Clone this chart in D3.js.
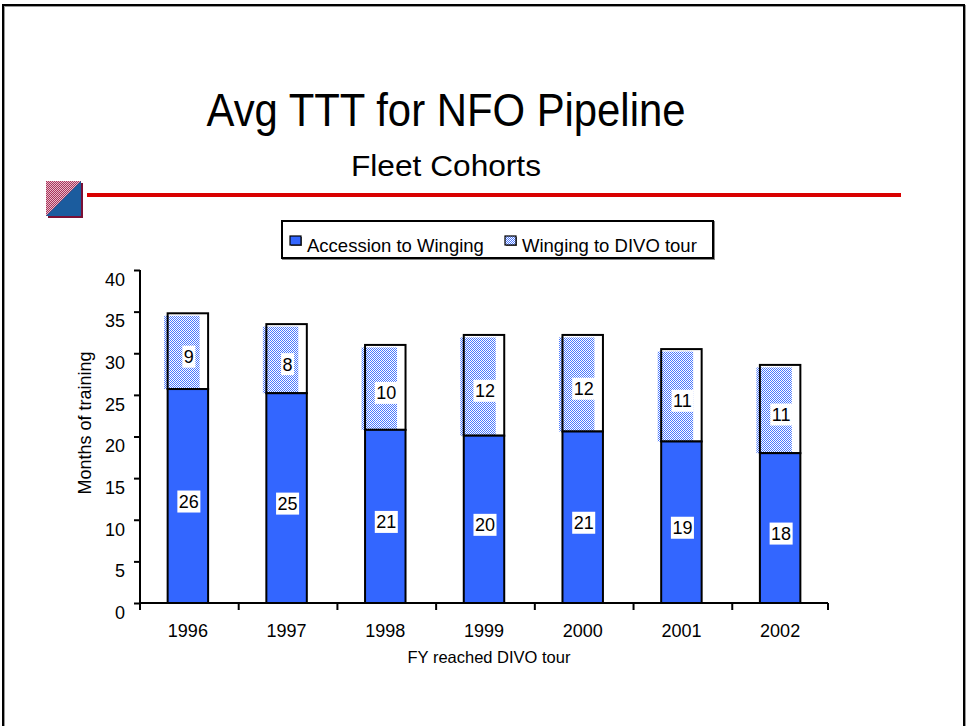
<!DOCTYPE html>
<html>
<head>
<meta charset="utf-8">
<script src="https://cdn.jsdelivr.net/npm/d3@7"></script>
<style>
  body { margin: 0; background: #fff; }
  svg { display: block; font-family: "Liberation Sans", Arial, sans-serif; }
</style>
</head>
<body>
<svg width="967" height="726"></svg>
<script>
var years = ["1996", "1997", "1998", "1999", "2000", "2001", "2002"]
var accessionToWinging = [25.7, 25.2, 20.8, 20.1, 20.6, 19.4, 18.0]
var wingingToDivo = [9.1, 8.3, 10.2, 12.1, 11.6, 11.1, 10.6]
var seriesNames = ["Accession to Winging", "Winging to DIVO tour"]
var yTicks = [0, 5, 10, 15, 20, 25, 30, 35, 40]

var BLUE = "#3366ff"

var svg = d3.select("svg")

// pattern for the stippled segment
var defs = svg.append("defs")
var pat = defs.append("pattern")
    .attr("id", "stipple")
    .attr("width", 2).attr("height", 2)
    .attr("patternUnits", "userSpaceOnUse")
pat.append("rect").attr("width", 2).attr("height", 2).attr("fill", "#fff")
pat.append("rect").attr("width", 1).attr("height", 1).attr("fill", "#4a78ff")
pat.append("rect").attr("x", 1).attr("y", 1).attr("width", 1).attr("height", 1).attr("fill", "#4a78ff")

var logoPat = defs.append("pattern")
    .attr("id", "logostip")
    .attr("width", 2).attr("height", 2)
    .attr("patternUnits", "userSpaceOnUse")
logoPat.append("rect").attr("width", 2).attr("height", 2).attr("fill", "#e9b9c8")
logoPat.append("rect").attr("width", 1).attr("height", 1).attr("fill", "#a8345a")
logoPat.append("rect").attr("x", 1).attr("y", 1).attr("width", 1).attr("height", 1).attr("fill", "#a8345a")

// page frame
svg.append("rect")
    .attr("x", 4).attr("y", 6).attr("width", 961).attr("height", 730)
    .attr("fill", "none").attr("stroke", "#999").attr("stroke-width", 2)
svg.append("rect")
    .attr("x", 3).attr("y", 5).attr("width", 961).attr("height", 730)
    .attr("fill", "none").attr("stroke", "#000").attr("stroke-width", 2)

// title
svg.append("text")
    .attr("x", 446).attr("y", 126)
    .attr("text-anchor", "middle")
    .attr("font-size", 47)
    .attr("textLength", 479).attr("lengthAdjust", "spacingAndGlyphs")
    .text("Avg TTT for NFO Pipeline")
svg.append("text")
    .attr("x", 446).attr("y", 176)
    .attr("text-anchor", "middle")
    .attr("font-size", 30)
    .attr("textLength", 190).attr("lengthAdjust", "spacingAndGlyphs")
    .text("Fleet Cohorts")

// logo + red rule
var logo = svg.append("g").attr("transform", "translate(46,181)")
logo.append("rect").attr("x", 2).attr("y", 2).attr("width", 35).attr("height", 35).attr("fill", "#7a1035")
logo.append("rect").attr("width", 35).attr("height", 35).attr("fill", "#1b5c9e")
logo.append("path").attr("d", "M0,0 L35,0 L0,35 Z").attr("fill", "url(#logostip)")
svg.append("line")
    .attr("x1", 87).attr("x2", 901).attr("y1", 195).attr("y2", 195)
    .attr("stroke", "#d90000").attr("stroke-width", 4)

// scales
var x = d3.scaleBand().domain(years).range([140, 828]).paddingInner(0.59).paddingOuter(0.28)
var y = d3.scaleLinear().domain([0, 40]).range([603, 270])

var g = svg.append("g")

// y axis
var yAxis = g.append("g").attr("transform", "translate(140,0)")
    .call(d3.axisLeft(y).tickValues(yTicks).tickSize(6).tickPadding(9))
yAxis.select(".domain").attr("stroke-width", 2).attr("d", "M0,270V603")
yAxis.selectAll(".tick line").attr("stroke-width", 2)
yAxis.selectAll(".tick text").attr("font-size", 18).attr("dy", "0.85em").attr("fill", "#000")
    .attr("font-family", "Liberation Sans, Arial, sans-serif")

// x axis with ticks between categories
var bounds = years.map(function(d, i) { return 140 + i * x.step() }).concat([828])
g.append("line").attr("x1", 140).attr("x2", 828).attr("y1", 603).attr("y2", 603)
    .attr("stroke", "#000").attr("stroke-width", 2)
g.selectAll(".xtick").data(bounds).enter().append("line")
    .attr("x1", function(d) { return d }).attr("x2", function(d) { return d })
    .attr("y1", 603).attr("y2", 610)
    .attr("stroke", "#000").attr("stroke-width", 2)
g.selectAll(".xlab").data(years).enter().append("text")
    .attr("x", function(d) { return x(d) + x.bandwidth() / 2 })
    .attr("y", 637)
    .attr("text-anchor", "middle").attr("font-size", 18)
    .text(function(d) { return d })

// axis titles
svg.append("text")
    .attr("transform", "translate(91,423) rotate(-90)")
    .attr("text-anchor", "middle").attr("font-size", 18)
    .text("Months of training")
svg.append("text")
    .attr("x", 489).attr("y", 663)
    .attr("text-anchor", "middle").attr("font-size", 16.5)
    .text("FY reached DIVO tour")

// bars
var rows = years.map(function(d, i) {
    return { year: d, a: accessionToWinging[i], b: wingingToDivo[i] }
})
var bars = g.selectAll(".bar").data(rows).enter().append("g").attr("class", "bar")
var bw = x.bandwidth()

// top segment: white box, offset stipple, outline
bars.append("rect")
    .attr("x", function(d) { return x(d.year) })
    .attr("y", function(d) { return y(d.a + d.b) })
    .attr("width", bw)
    .attr("height", function(d) { return y(d.a) - y(d.a + d.b) })
    .attr("fill", "#fff")
bars.append("rect")
    .attr("x", function(d) { return x(d.year) - 3.5 })
    .attr("y", function(d) { return y(d.a + d.b) + 2.5 })
    .attr("width", bw - 5)
    .attr("height", function(d) { return y(d.a) - y(d.a + d.b) - 2.5 })
    .attr("fill", "url(#stipple)")
bars.append("rect")
    .attr("x", function(d) { return x(d.year) })
    .attr("y", function(d) { return y(d.a + d.b) })
    .attr("width", bw)
    .attr("height", function(d) { return y(d.a) - y(d.a + d.b) })
    .attr("fill", "none").attr("stroke", "#000").attr("stroke-width", 2)

// bottom segment
bars.append("rect")
    .attr("x", function(d) { return x(d.year) })
    .attr("y", function(d) { return y(d.a) })
    .attr("width", bw)
    .attr("height", function(d) { return y(0) - y(d.a) })
    .attr("fill", BLUE).attr("stroke", "#000").attr("stroke-width", 2)

// value labels with white boxes
function addLabel(sel, valueFn, midFn) {
    var lg = sel.append("g")
        .attr("transform", function(d) {
            return "translate(" + (x(d.year) + bw / 2 + 1) + "," + (midFn(d) + 5.5) + ")"
        })
    lg.append("text")
        .attr("text-anchor", "middle").attr("dy", "0.36em")
        .attr("font-size", 18)
        .text(function(d) { return Math.round(valueFn(d)) })
    lg.each(function() {
        var t = d3.select(this).select("text")
        var bb = t.node().getBBox()
        d3.select(this).insert("rect", "text")
            .attr("x", bb.x - 1.5).attr("y", -11)
            .attr("width", bb.width + 3).attr("height", 22)
            .attr("fill", "#fff")
    })
}
addLabel(bars, function(d) { return d.a }, function(d) { return (y(0) + y(d.a)) / 2 })
addLabel(bars, function(d) { return d.b }, function(d) { return (y(d.a) + y(d.a + d.b)) / 2 })

// legend
var leg = svg.append("g")
leg.append("rect").attr("x", 283).attr("y", 222).attr("width", 431).attr("height", 37)
    .attr("fill", "none").attr("stroke", "#888").attr("stroke-width", 2)
leg.append("rect").attr("x", 282).attr("y", 221).attr("width", 431).attr("height", 37)
    .attr("fill", "#fff").attr("stroke", "#000").attr("stroke-width", 2)
var legItems = [
    { name: seriesNames[0], x: 290, fill: BLUE },
    { name: seriesNames[1], x: 505, fill: "url(#stipple)" }
]
var li = leg.selectAll(".li").data(legItems).enter().append("g")
    .attr("transform", function(d) { return "translate(" + d.x + ",0)" })
li.append("rect").attr("x", 1).attr("y", 237).attr("width", 11).attr("height", 9).attr("fill", "#666")
li.append("rect").attr("x", 0).attr("y", 236).attr("width", 11).attr("height", 9)
    .attr("fill", function(d) { return d.fill }).attr("stroke", "#000").attr("stroke-width", 1.2)
li.append("text").attr("x", 17).attr("y", 252).attr("font-size", 18.5)
    .text(function(d) { return d.name })
</script>
</body>
</html>
